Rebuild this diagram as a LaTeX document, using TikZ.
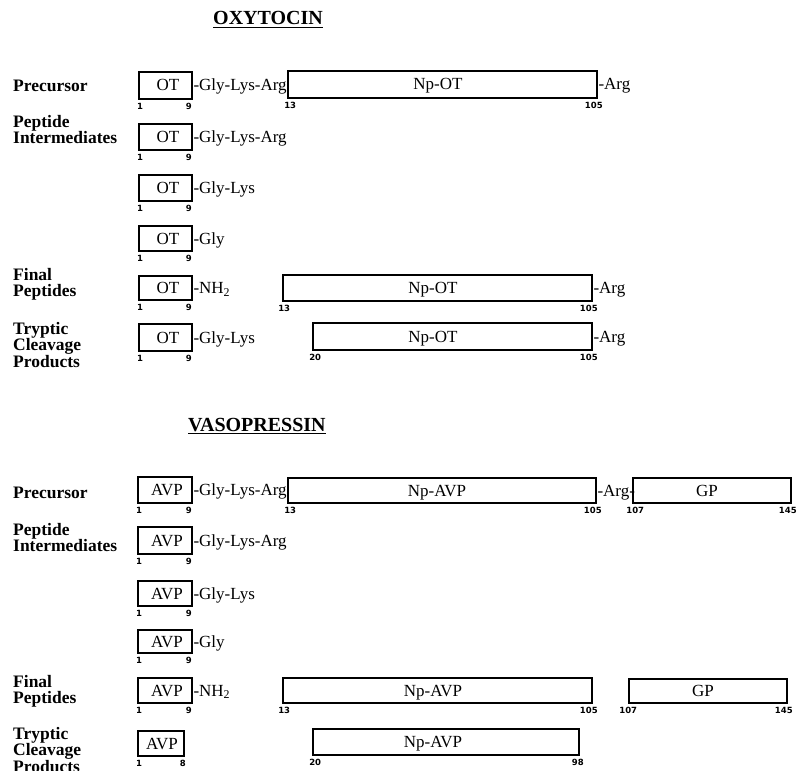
\documentclass[tikz,border=0pt]{standalone}
\usepackage{fontspec}
\setmainfont{Liberation Serif}
\newfontfamily\numfont{DejaVu Sans}
\usetikzlibrary{fit,positioning}
\tikzset{
  segbox/.style={
    draw,
    line width=1.6pt,
    inner sep=0pt
  },
  segtext/.style={
    font=\fontsize{17}{17}\selectfont,
    anchor=base,
    inner sep=0pt
  },
  chain/.style={
    font=\fontsize{17}{17}\selectfont,
    inner sep=0.5pt,
    anchor=base west,
    yshift=-5.5pt
  },
  rowlabel/.style={
    font=\bfseries\fontsize{17.5}{16}\selectfont,
    align=left,
    anchor=north west,
    inner sep=0pt
  },
  heading/.style={
    font=\bfseries\fontsize{20}{20}\selectfont,
    anchor=base west,
    inner sep=0pt
  },
  resnum/.style={
    font=\numfont\bfseries\fontsize{8.5}{8.5}\selectfont,
    anchor=north,
    inner sep=0pt,
    yshift=-3pt
  },
}
% box from (x1,y1) to (x2,y2), text at x
\newcommand{\segment}[7]{%
  \node[segbox, fit={(#2,#3) (#4,#5)}] (#1) {};
  \node[segtext] (#1-t) at (#6,{(#3+#5)/2+5.5}) {#7};
}

\begin{document}
\begin{tikzpicture}[x=1pt,y=-1pt]
\useasboundingbox (0,0) rectangle (799,770);

% oxytocin
\node[heading] (oxy) at (213,25) {OXYTOCIN};
\draw[line width=1.2pt] ([yshift=-2.5pt]oxy.base west) -- ([yshift=-2.5pt]oxy.base east);

\node[rowlabel] (lab-o1) at (13,80) {Precursor};
\node[rowlabel] (lab-o2) at (13,115) {Peptide\\Intermediates};
\node[rowlabel] (lab-o5) at (13,268) {Final\\Peptides};
\node[rowlabel] (lab-o6) at (13,322) {Tryptic\\Cleavage\\Products};

\segment{ot1}{139}{72}{192}{99}{168}{OT}
\segment{np1}{288}{71}{597}{98}{438}{Np-OT}
\segment{ot2}{139}{124}{192}{150}{168}{OT}
\segment{ot3}{139}{175}{192}{201}{168}{OT}
\segment{ot4}{139}{226}{192}{251}{168}{OT}
\segment{ot5}{139}{276}{192}{300}{168}{OT}
\segment{np5}{283}{275}{592}{301}{433}{Np-OT}
\segment{ot6}{139}{324}{192}{351}{168}{OT}
\segment{np6}{313}{323}{592}{350}{433}{Np-OT}

\node[chain] (ot1-c) at (ot1.east) {-Gly-Lys-Arg};
\node[chain] (np1-c) at (np1.east) {-Arg};
\node[chain] (ot2-c) at (ot2.east) {-Gly-Lys-Arg};
\node[chain] (ot3-c) at (ot3.east) {-Gly-Lys};
\node[chain] (ot4-c) at (ot4.east) {-Gly};
\node[chain] (ot5-c) at (ot5.east) {-NH\textsubscript{2}};
\node[chain] (np5-c) at (np5.east) {-Arg};
\node[chain] (ot6-c) at (ot6.east) {-Gly-Lys};
\node[chain] (np6-c) at (np6.east) {-Arg};

\foreach \r in {1,...,6}{
  \node[resnum] (ot\r-a) at ([xshift=2pt]ot\r.south west) {1};
  \node[resnum] (ot\r-b) at ([xshift=-4pt]ot\r.south east) {9};
}
\node[resnum] (np1-a) at ([xshift=3pt]np1.south west) {13};
\node[resnum] (np1-b) at ([xshift=-4pt]np1.south east) {105};
\node[resnum] (np5-a) at ([xshift=2pt]np5.south west) {13};
\node[resnum] (np5-b) at ([xshift=-4pt]np5.south east) {105};
\node[resnum] (np6-a) at ([xshift=3pt]np6.south west) {20};
\node[resnum] (np6-b) at ([xshift=-4pt]np6.south east) {105};

% vasopressin
\node[heading] (vaso) at (188,431) {VASOPRESSIN};
\draw[line width=1.2pt] ([yshift=-2.5pt]vaso.base west) -- ([yshift=-2.5pt]vaso.base east);

\node[rowlabel] (lab-v1) at (13,487) {Precursor};
\node[rowlabel] (lab-v2) at (13,523) {Peptide\\Intermediates};
\node[rowlabel] (lab-v5) at (13,675) {Final\\Peptides};
\node[rowlabel] (lab-v6) at (13,727) {Tryptic\\Cleavage\\Products};

\segment{avp1}{138}{477}{192}{503}{167}{AVP}
\segment{npa1}{288}{478}{596}{503}{437}{Np-AVP}
\segment{gp1}{633}{478}{791}{503}{707}{GP}
\segment{avp2}{138}{527}{192}{554}{167}{AVP}
\segment{avp3}{138}{581}{192}{606}{167}{AVP}
\segment{avp4}{138}{630}{192}{653}{167}{AVP}
\segment{avp5}{138}{678}{192}{703}{167}{AVP}
\segment{npa5}{283}{678}{592}{703}{433}{Np-AVP}
\segment{gp5}{629}{679}{787}{703}{703}{GP}
\segment{avp6}{138}{731}{184}{756}{162}{AVP}
\segment{npa6}{313}{729}{579}{755}{433}{Np-AVP}

\node[chain] (avp1-c) at (avp1.east) {-Gly-Lys-Arg};
\node[chain] (npa1-c) at (npa1.east) {-Arg-};
\node[chain] (avp2-c) at (avp2.east) {-Gly-Lys-Arg};
\node[chain] (avp3-c) at (avp3.east) {-Gly-Lys};
\node[chain] (avp4-c) at (avp4.east) {-Gly};
\node[chain] (avp5-c) at (avp5.east) {-NH\textsubscript{2}};

\foreach \r in {1,...,5}{
  \node[resnum] (avp\r-a) at ([xshift=2pt]avp\r.south west) {1};
  \node[resnum] (avp\r-b) at ([xshift=-4pt]avp\r.south east) {9};
}
\node[resnum] (avp6-a) at ([xshift=2pt]avp6.south west) {1};
\node[resnum] (avp6-b) at ([xshift=-2pt]avp6.south east) {8};
\node[resnum] (npa1-a) at ([xshift=3pt]npa1.south west) {13};
\node[resnum] (npa1-b) at ([xshift=-4pt]npa1.south east) {105};
\node[resnum] (gp1-a) at ([xshift=3pt]gp1.south west) {107};
\node[resnum] (gp1-b) at ([xshift=-4pt]gp1.south east) {145};
\node[resnum] (npa5-a) at ([xshift=2pt]npa5.south west) {13};
\node[resnum] (npa5-b) at ([xshift=-4pt]npa5.south east) {105};
\node[resnum] (gp5-a) at ([xshift=0pt]gp5.south west) {107};
\node[resnum] (gp5-b) at ([xshift=-4pt]gp5.south east) {145};
\node[resnum] (npa6-a) at ([xshift=3pt]npa6.south west) {20};
\node[resnum] (npa6-b) at ([xshift=-2pt]npa6.south east) {98};
\end{tikzpicture}
\end{document}
